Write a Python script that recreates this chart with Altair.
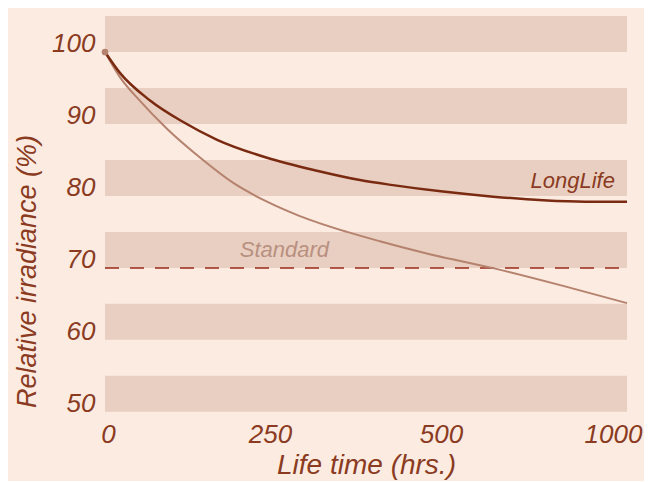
import altair as alt
import pandas as pd

# ---- data ----
std_hours = [0, 23, 54, 96, 147, 198, 250, 298, 367, 415, 488, 643, 831, 1000]
std_vals = [100.0, 96.5, 93.2, 89.3, 85.3, 81.8, 79.2, 77.2, 75.0, 73.7, 71.9, 70.0, 67.5, 65.1]
ll_hours = [0, 23, 69, 120, 173, 250, 323, 386, 434, 513, 646, 778, 889, 1000]
ll_vals = [100.0, 97.1, 93.3, 90.3, 87.8, 85.3, 83.5, 82.2, 81.5, 80.6, 79.9, 79.4, 79.2, 79.2]
band_lo = [50, 60, 70, 80, 90, 100]
band_hi = [55, 65, 75, 85, 95, 105]
x_ticks = [0, 250, 500, 1000]
y_ticks = [50, 60, 70, 80, 90, 100]
threshold = 70
series_names = ["LongLife", "Standard"]
label_hours = [968, 208]
label_vals = [81.1, 71.5]

BG = "#fcebe1"
BAND = "#e9cfc1"
TXT = "#8a3b22"
LL_C = "#7a2a10"
STD_C = "#b5826e"
STD_T = "#b89080"
DASH_C = "#9b2a1a"
FONT = "Liberation Sans"

xscale = alt.Scale(domain=x_ticks, range=[0, 162, 333, 522], nice=False, zero=False)
yscale = alt.Scale(domain=[49, 105], nice=False, zero=False)

bands = pd.DataFrame({"x0": [0] * len(band_lo), "x1": [1000] * len(band_lo), "lo": band_lo, "hi": band_hi})
std_df = pd.DataFrame({"h": std_hours, "v": std_vals})
ll_df = pd.DataFrame({"h": ll_hours, "v": ll_vals})
thr_df = pd.DataFrame({"x0": [0], "x1": [1000], "y": [threshold]})
start_df = pd.DataFrame({"h": [std_hours[0]], "v": [std_vals[0]]})

x_axis = alt.Axis(
    values=x_ticks, format="d", title="Life time (hrs.)", grid=False, ticks=False, domain=False,
    labelFlush=False,
    labelFont=FONT, labelFontSize=26, labelFontStyle="italic",
    labelColor=TXT, labelPadding=2,
    labelOffset={"condition": {"test": "datum.value == 1000", "value": -14}, "value": 3},
    titleFont=FONT, titleFontSize=28, titleFontStyle="italic", titleFontWeight="normal",
    titleColor=TXT, titleX=261, titleY=54, titleBaseline="alphabetic", titleAlign="center",
)
y_axis = alt.Axis(
    values=y_ticks, title="Relative irradiance (%)", grid=False, ticks=False, domain=False,
    labelFont=FONT, labelFontSize=26, labelFontStyle="italic",
    labelColor=TXT, labelPadding=10, labelBaseline="alphabetic",
    titleFont=FONT, titleFontSize=27, titleFontStyle="italic", titleFontWeight="normal",
    titleColor=TXT, titleAngle=-90, titleX=-78, titleY=255, titleBaseline="middle",
    titleAlign="center",
)

band_layer = alt.Chart(bands).mark_rect(color=BAND).encode(
    x=alt.X("x0:Q", scale=xscale, axis=x_axis),
    x2="x1:Q",
    y=alt.Y("lo:Q", scale=yscale, axis=y_axis),
    y2="hi:Q",
)

thr_layer = alt.Chart(thr_df).mark_rule(color=DASH_C, strokeWidth=1.5, strokeDash=[14, 11]).encode(
    x=alt.X("x0:Q", scale=xscale), x2="x1:Q", y=alt.Y("y:Q", scale=yscale)
)

std_layer = alt.Chart(std_df).mark_line(color=STD_C, strokeWidth=2, interpolate="monotone").encode(
    x=alt.X("h:Q", scale=xscale), y=alt.Y("v:Q", scale=yscale)
)
ll_layer = alt.Chart(ll_df).mark_line(color=LL_C, strokeWidth=2.5, interpolate="monotone").encode(
    x=alt.X("h:Q", scale=xscale), y=alt.Y("v:Q", scale=yscale)
)
dot_layer = alt.Chart(start_df).mark_point(filled=True, color=STD_C, size=45, opacity=1).encode(
    x=alt.X("h:Q", scale=xscale), y=alt.Y("v:Q", scale=yscale)
)

lbl_ll = alt.Chart(pd.DataFrame({"h": [label_hours[0]], "v": [label_vals[0]], "t": [series_names[0]]})).mark_text(
    align="right", baseline="alphabetic", font=FONT, fontSize=22, fontStyle="italic", color=TXT
).encode(x=alt.X("h:Q", scale=xscale), y=alt.Y("v:Q", scale=yscale), text="t:N")
lbl_std = alt.Chart(pd.DataFrame({"h": [label_hours[1]], "v": [label_vals[1]], "t": [series_names[1]]})).mark_text(
    align="left", baseline="alphabetic", font=FONT, fontSize=22, fontStyle="italic", color=STD_T
).encode(x=alt.X("h:Q", scale=xscale), y=alt.Y("v:Q", scale=yscale), text="t:N")

chart = alt.layer(band_layer, thr_layer, std_layer, ll_layer, dot_layer, lbl_ll, lbl_std).properties(
    width=522, height=403,
    autosize=alt.AutoSizeParams(type="none"),
    padding={"left": 97, "top": 8, "right": 17, "bottom": 62},
    background=BG,
).configure_view(stroke=None)

chart.save("out.html", embed_options={"renderer": "svg", "actions": False})
